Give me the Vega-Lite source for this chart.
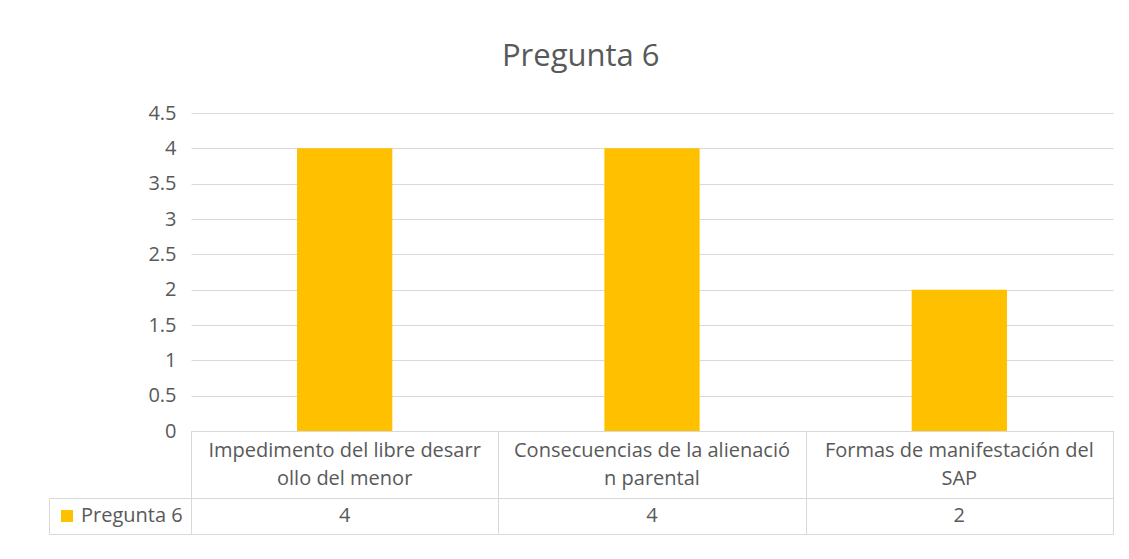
{
  "$schema": "https://vega.github.io/schema/vega-lite/v6.json",
  "background": "white",
  "padding": {"left": 48, "top": 41, "right": 0, "bottom": 0},
  "title": {
    "text": "Pregunta 6",
    "font": "Open Sans",
    "fontSize": 31,
    "fontWeight": "normal",
    "color": "#595959",
    "anchor": "middle",
    "offset": 30
  },
  "data": {
    "values": [
      {"categoria": "Impedimento del libre desarrollo del menor", "etiqueta": "Impedimento del libre desarr\nollo del menor", "serie": "Pregunta 6", "valor": 4},
      {"categoria": "Consecuencias de la alienación parental", "etiqueta": "Consecuencias de la alienació\nn parental", "serie": "Pregunta 6", "valor": 4},
      {"categoria": "Formas de manifestación del SAP", "etiqueta": "Formas de manifestación del\nSAP", "serie": "Pregunta 6", "valor": 2}
    ]
  },
  "spacing": 0,
  "bounds": "flush",
  "resolve": {"legend": {"color": "independent"}, "scale": {"color": "independent"}},
  "vconcat": [
    {
      "width": 922,
      "height": 318,
      "view": {"stroke": null},
      "mark": {"type": "bar", "color": "#FFC000"},
      "encoding": {
        "x": {
          "field": "categoria", "type": "nominal", "sort": null,
          "scale": {"paddingInner": 0.69, "paddingOuter": 0.345},
          "axis": null
        },
        "y": {
          "field": "valor", "type": "quantitative",
          "scale": {"domain": [0, 4.5], "nice": false},
          "axis": {
            "values": [0, 0.5, 1, 1.5, 2, 2.5, 3, 3.5, 4, 4.5],
            "format": "~g",
            "title": null, "domain": false, "ticks": false,
            "labelPadding": 15, "labelFontSize": 20, "labelColor": "#595959",
            "labelFont": "Open Sans",
            "gridColor": "#d9d9d9", "gridWidth": 1
          }
        }
      }
    },
    {
      "width": 922,
      "height": 67,
      "mark": {"type": "text", "lineBreak": "\n", "fontSize": 20, "lineHeight": 28, "dy": -14, "color": "#595959", "font": "Open Sans", "baseline": "middle"},
      "encoding": {
        "x": {
          "field": "categoria", "type": "nominal", "sort": null,
          "scale": {"paddingInner": 0, "paddingOuter": 0},
          "axis": {"title": null, "labels": false, "ticks": false, "domain": false, "grid": true, "tickBand": "extent", "gridColor": "#d9d9d9"}
        },
        "text": {"field": "etiqueta"}
      }
    },
    {
      "width": 922,
      "height": 36,
      "layer": [
        {
          "mark": {"type": "text", "fontSize": 20, "color": "#595959", "font": "Open Sans", "baseline": "middle"},
          "encoding": {
            "x": {
              "field": "categoria", "type": "nominal", "sort": null,
              "scale": {"paddingInner": 0, "paddingOuter": 0},
              "axis": {"title": null, "labels": false, "ticks": false, "domain": false, "grid": true, "tickBand": "extent", "gridColor": "#d9d9d9"}
            },
            "text": {"field": "valor", "type": "quantitative"}
          }
        },
        {
          "mark": {"type": "square", "size": 0, "filled": true},
          "encoding": {
            "color": {
              "field": "serie", "type": "nominal",
              "scale": {"range": ["#FFC000"]},
              "legend": {
                "orient": "left", "offset": 0, "padding": 8, "title": null,
                "strokeColor": "#d9d9d9", "cornerRadius": 0,
                "symbolType": "square", "symbolSize": 144, "symbolOpacity": 1, "symbolStrokeWidth": 0,
                "labelFontSize": 20, "labelColor": "#595959", "labelFont": "Open Sans", "labelOffset": 4
              }
            }
          }
        }
      ]
    }
  ],
  "config": {
    "view": {"stroke": "#d9d9d9"},
    "font": "Open Sans"
  }
}
